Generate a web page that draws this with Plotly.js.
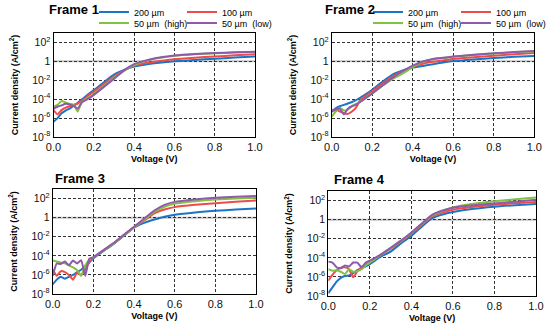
<!DOCTYPE html>
<html>
<head>
<meta charset="utf-8">
<script src="https://cdn.plot.ly/plotly-3.0.1.min.js"></script>
<style>html,body{margin:0;padding:0;background:#fff;}#chart{width:550px;height:331px;}</style>
</head>
<body>
<div id="chart"></div>
<script>
// Voltage (V)
const voltage = [0, 0.02, 0.04, 0.06, 0.08, 0.10, 0.12, 0.14, 0.16, 0.18, 0.20, 0.25, 0.30, 0.35, 0.40, 0.45, 0.50, 0.55, 0.60, 0.70, 0.80, 0.90, 1.00];

const seriesNames = ['200 µm', '100 µm', '50 µm  (high)', '50 µm  (low)'];
const frameTitles = ['Frame 1', 'Frame 2', 'Frame 3', 'Frame 4'];

// Current density (A/cm^2)
const frame1_200 = [4e-7, 1e-6, 3.2e-6, 6.3e-6, 1e-5, 2e-5, 4e-5, 9e-5, 2e-4, 4.5e-4, 9e-4, 6.3e-3, 4e-2, 0.126, 0.28, 0.45, 0.63, 0.8, 1.0, 1.4, 1.9, 2.5, 3.3];
const frame1_100 = [7e-6, 2.5e-6, 7e-6, 1.26e-5, 1.8e-5, 2.5e-5, 3.5e-5, 7e-5, 1.4e-4, 3.2e-4, 6.3e-4, 4e-3, 2.5e-2, 0.11, 0.35, 0.63, 0.9, 1.26, 1.66, 2.4, 3.3, 4.3, 5.6];
const frame1_50h = [1.6e-5, 2.5e-5, 6.3e-5, 4.5e-5, 3.2e-5, 2.5e-5, 5e-6, 5e-5, 1e-4, 1.8e-4, 3.5e-4, 2.5e-3, 1.8e-2, 0.1, 0.4, 1.0, 1.9, 2.8, 4.0, 5.8, 7.2, 8.5, 10];
const frame1_50l = [1e-5, 1.6e-5, 2.2e-5, 3.2e-5, 2.8e-5, 2e-5, 1e-5, 4.5e-5, 8e-5, 1.4e-4, 2.8e-4, 2e-3, 1.4e-2, 0.11, 0.5, 1.12, 2.0, 3.0, 4.2, 6.0, 7.6, 9.0, 10.5];

const frame2_200 = [5e-6, 1.1e-5, 1.8e-5, 2.5e-5, 3.5e-5, 5e-5, 8e-5, 1.4e-4, 2.5e-4, 5e-4, 1e-3, 7e-3, 4e-2, 0.11, 0.22, 0.33, 0.5, 0.76, 1.07, 1.6, 2.3, 3.0, 3.8];
const frame2_100 = [6.3e-6, 8e-6, 5e-6, 3.2e-6, 2.8e-6, 5e-6, 1.26e-5, 8e-5, 1.6e-4, 3.5e-4, 7e-4, 4.5e-3, 2.5e-2, 9e-2, 0.25, 0.56, 0.9, 1.26, 1.8, 2.8, 4.0, 5.6, 7.6];
const frame2_50h = [1.4e-6, 5e-6, 1.26e-5, 6.3e-6, 8e-6, 2e-5, 3.2e-5, 5.6e-5, 1e-4, 2e-4, 4e-4, 2.5e-3, 1.4e-2, 5e-2, 0.25, 0.9, 1.66, 2.3, 3.0, 4.8, 6.8, 9.1, 12];
const frame2_50l = [5e-6, 8e-6, 1e-5, 2.5e-6, 1e-5, 1.8e-5, 2.5e-5, 5e-5, 1e-4, 2e-4, 4e-4, 2.8e-3, 1.8e-2, 9e-2, 0.35, 1.0, 1.8, 2.4, 3.2, 5.0, 7.0, 9.5, 12.6];

const frame3_200 = [1e-7, 3.2e-7, 6.3e-7, 4e-7, 6.3e-7, 1e-6, 2e-6, 3.5e-6, 8e-6, 2e-5, 5.6e-5, 3.2e-4, 1.8e-3, 1.26e-2, 9e-2, 0.28, 0.63, 1.26, 2.0, 3.5, 5.2, 7.0, 9.3];
const frame3_100 = [4e-6, 8e-7, 2.5e-6, 2e-6, 1e-6, 3.2e-7, 1.6e-6, 1e-6, 3.2e-6, 2.5e-5, 6.3e-5, 3.5e-4, 2e-3, 1.4e-2, 0.1, 0.5, 2.8, 7.0, 12.6, 22, 32, 45, 63];
const frame3_50h = [3.2e-5, 2.5e-5, 2e-5, 1.6e-5, 1e-5, 6.3e-6, 3.2e-6, 8e-7, 1e-5, 4e-5, 7e-5, 3.5e-4, 2e-3, 1.4e-2, 0.1, 0.63, 4.0, 14, 28, 52, 80, 100, 120];
const frame3_50l = [8e-7, 1.6e-5, 1.4e-5, 2.5e-5, 1e-5, 3.2e-5, 1.6e-5, 3.5e-5, 8e-7, 5e-5, 7e-5, 4e-4, 2.2e-3, 1.6e-2, 0.11, 0.8, 5.6, 22, 45, 80, 120, 150, 180];

const frame4_200 = [2e-8, 8e-8, 3.2e-7, 8e-7, 1.26e-6, 1.4e-6, 2.5e-6, 5e-6, 8e-6, 1.26e-5, 2.2e-5, 1.26e-4, 4.5e-4, 3.2e-3, 2e-2, 0.18, 1.4, 3.5, 6.3, 14, 23, 33, 44];
const frame4_100 = [4e-7, 1.6e-6, 5e-6, 9e-6, 1e-5, 6.3e-6, 9e-7, 4e-6, 1.1e-5, 2e-5, 3.2e-5, 1.8e-4, 9e-4, 5e-3, 3.5e-2, 0.28, 2.2, 5.6, 11, 22, 37, 52, 70];
const frame4_50h = [6.3e-6, 4.5e-6, 5e-6, 3.5e-6, 2e-6, 6.3e-6, 3.5e-6, 4e-6, 6.3e-6, 1.6e-5, 3.2e-5, 1.8e-4, 1e-3, 5.6e-3, 4e-2, 0.35, 2.8, 8.0, 19, 45, 83, 140, 210];
const frame4_50l = [4e-5, 3.2e-5, 1e-5, 8e-6, 1.6e-5, 1.26e-5, 3.2e-5, 3.2e-5, 1e-5, 3.2e-5, 5e-5, 2e-4, 1.1e-3, 6.3e-3, 4.5e-2, 0.4, 3.2, 9.0, 18, 32, 50, 76, 120];

// Axis ticks
const xTickVals = [0, 0.2, 0.4, 0.6, 0.8, 1.0];
const xTickText = ['0.0', '0.2', '0.4', '0.6', '0.8', '1.0'];
const yTickVals = [1e-8, 1e-6, 1e-4, 1e-2, 1, 1e2];
const yTickText = ['10<sup>-8</sup>', '10<sup>-6</sup>', '10<sup>-4</sup>', '10<sup>-2</sup>', '1', '10<sup>2</sup>'];

const colors = ['#1b74c5', '#ef4b4b', '#82c141', '#8e5aa9'];

const frames = [
  [frame1_200, frame1_100, frame1_50h, frame1_50l],
  [frame2_200, frame2_100, frame2_50h, frame2_50l],
  [frame3_200, frame3_100, frame3_50h, frame3_50l],
  [frame4_200, frame4_100, frame4_50h, frame4_50l]
];

const FONT = 'Liberation Sans, Arial, sans-serif';
const W = 550, H = 331;
// plot boxes in pixels [left, right, top, bottom]
const boxes = [
  [53.5, 255, 33, 137],
  [331.7, 534.3, 33, 137],
  [52.7, 256, 189, 294],
  [328.3, 536, 191, 296]
];

const traces = [];
const layout = {
  width: W, height: H,
  margin: {l: 0, r: 0, t: 0, b: 0, autoexpand: false},
  paper_bgcolor: '#fff', plot_bgcolor: '#fff',
  font: {family: FONT, color: '#000'},
  showlegend: true,
  shapes: [], annotations: []
};

// legend assignment: frame1 -> legend (row1), legend2 (row2); frame2 -> legend3, legend4
const legendIds = [['legend', 'legend', 'legend2', 'legend2'], ['legend3', 'legend3', 'legend4', 'legend4']];

frames.forEach((series, f) => {
  const n = f + 1;
  const xa = n === 1 ? 'x' : 'x' + n;
  const ya = n === 1 ? 'y' : 'y' + n;
  series.forEach((vals, s) => {
    const tr = {
      type: 'scatter', mode: 'lines',
      x: voltage, y: vals,
      name: seriesNames[s],
      xaxis: xa, yaxis: ya,
      line: {color: colors[s], width: 2, shape: 'spline', smoothing: 0.4},
      showlegend: f < 2
    };
    if (f < 2) {
      tr.legend = legendIds[f][s];
      tr.legendwidth = (s % 2 === 0) ? 43 : 56;
    }
    traces.push(tr);
  });
  const b = boxes[f];
  const xkey = n === 1 ? 'xaxis' : 'xaxis' + n;
  const ykey = n === 1 ? 'yaxis' : 'yaxis' + n;
  layout[xkey] = {
    domain: [b[0] / W, b[1] / W],
    anchor: ya,
    range: [0, 1],
    tickvals: xTickVals, ticktext: xTickText,
    ticks: '', ticklen: 0,
    tickfont: {size: 11, family: FONT, color: '#111'},
    showgrid: true, gridcolor: '#333', gridwidth: 1, griddash: '3px,2px',
    showline: true, linecolor: '#000', linewidth: 1, mirror: true,
    zeroline: false, automargin: false,
    title: {text: '<b>Voltage (V)</b>', font: {size: 9, family: FONT, color: '#000'}, standoff: 3}
  };
  layout[ykey] = {
    domain: [1 - b[3] / H, 1 - b[2] / H],
    anchor: xa,
    type: 'log',
    range: [-8, 3],
    tickvals: yTickVals, ticktext: yTickText,
    ticks: '', ticklen: 0,
    tickfont: {size: 10.5, family: FONT, color: '#111'},
    showgrid: true, gridcolor: '#333', gridwidth: 1, griddash: '3px,2px',
    showline: true, linecolor: '#000', linewidth: 1, mirror: true,
    zeroline: false, automargin: false,
    title: {text: '<b>Current density (A/cm<sup>2</sup>)</b>', font: {size: 9, family: FONT, color: '#000'}, standoff: 12}
  };
  layout.shapes.push({
    type: 'line', xref: xa + ' domain', yref: ya,
    x0: 0, x1: 1, y0: 1, y1: 1,
    line: {color: '#c4c4c4', width: 2}, layer: 'below'
  });
});

// frame titles
const titlePos = [[47, 10], [323, 10], [53, 178], [332, 179]];
titlePos.forEach((p, i) => {
  layout.annotations.push({
    text: '<b>' + frameTitles[i] + '</b>', xref: 'paper', yref: 'paper',
    x: p[0] / W, y: 1 - p[1] / H, xanchor: 'left', yanchor: 'middle',
    showarrow: false, font: {size: 13, family: FONT, color: '#000'}
  });
});

const legendBase = {
  orientation: 'h', xref: 'paper', yref: 'paper',
  xanchor: 'left', yanchor: 'middle',
  bgcolor: 'rgba(0,0,0,0)', borderwidth: 0,
  font: {size: 9, family: FONT, color: '#000'},
  itemwidth: 30, tracegroupgap: 0
};
layout.legend = Object.assign({}, legendBase, {x: 94 / W, y: 1 - 12 / H});
layout.legend2 = Object.assign({}, legendBase, {x: 94 / W, y: 1 - 23 / H});
layout.legend3 = Object.assign({}, legendBase, {x: 368 / W, y: 1 - 12 / H});
layout.legend4 = Object.assign({}, legendBase, {x: 368 / W, y: 1 - 23 / H});

Plotly.newPlot('chart', traces, layout, {displayModeBar: false, staticPlot: true});
</script>
</body>
</html>
